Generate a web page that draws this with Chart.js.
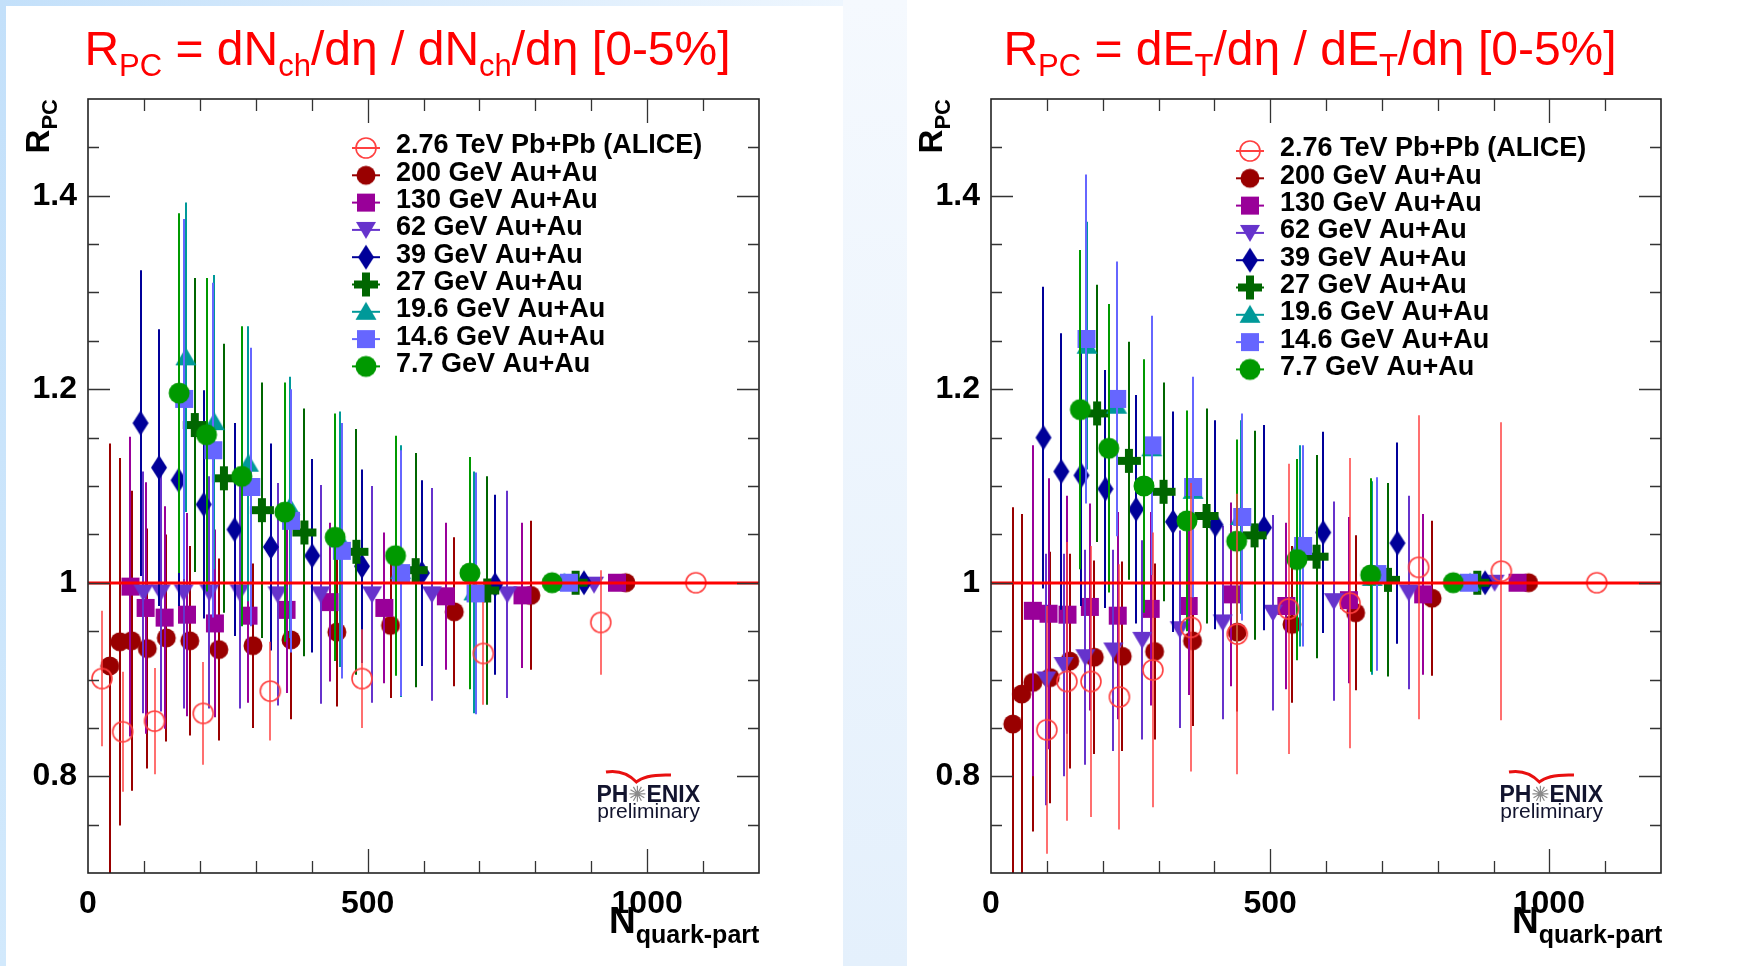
<!DOCTYPE html>
<html>
<head>
<meta charset="utf-8">
<script src="https://cdn.jsdelivr.net/npm/chart.js@4.4.1/dist/chart.umd.min.js"></script>
<style>
  body { margin: 0; width: 1746px; height: 966px; overflow: hidden; position: relative; background: #f2f8fe; }
  .strip { position: absolute; }
  canvas { position: absolute; top: 0; }
</style>
</head>
<body>
<div class="strip" style="left:0;top:0;width:6px;height:966px;background:linear-gradient(#c3e0fa,#d2e9fc)"></div>
<div class="strip" style="left:0;top:0;width:843px;height:6px;background:linear-gradient(to right,#c3e0fa,#eef6fe)"></div>
<div class="strip" style="left:6px;top:6px;width:837px;height:960px;background:#fff"></div>
<div class="strip" style="left:843px;top:0;width:64px;height:966px;background:linear-gradient(#f5f9fe,#e4f0fc)"></div>
<div class="strip" style="left:907px;top:0;width:839px;height:966px;background:#fff"></div>
<canvas id="nch" width="843" height="966" style="left:0"></canvas>
<canvas id="et" width="839" height="966" style="left:907px"></canvas>
<script>
// series, in legend order
const seriesLabels = ['2.76 TeV Pb+Pb (ALICE)', '200 GeV Au+Au', '130 GeV Au+Au', '62 GeV Au+Au', '39 GeV Au+Au',
                      '27 GeV Au+Au', '19.6 GeV Au+Au', '14.6 GeV Au+Au', '7.7 GeV Au+Au'];
const seriesColors = ['#ff4040', '#990000', '#990099', '#6633cc', '#000099', '#006600', '#009999', '#6666ff', '#009900'];
const seriesMarkers = ['openCircle', 'circle', 'square', 'triDown', 'diamond', 'cross', 'triUp', 'square', 'bigCircle'];

const xTickLabels = ['0', '500', '1000'];
const yTickLabels = ['0.8', '1', '1.2', '1.4'];
const refLine = 1;

// left panel: R_PC from dNch/deta (one row per series)
const nchX = [
  [25, 62, 119, 206, 326, 490, 707, 917, 1087],
  [39, 57, 78, 106, 140, 182, 234, 295, 363, 445, 541, 655, 792, 962],
  [76, 103, 137, 177, 227, 287, 355, 432, 530, 640, 777, 946],
  [99, 130, 171, 217, 271, 339, 416, 508, 615, 750, 905],
  [94, 127, 162, 207, 262, 327, 401, 490, 597, 728, 887],
  [191, 243, 311, 387, 480, 586, 714, 872],
  [175, 226, 287, 361, 450, 559, 690, 852],
  [172, 224, 292, 363, 454, 560, 693, 860],
  [163, 212, 275, 352, 442, 550, 683, 830]
];
const nchY = [
  [0.901, 0.846, 0.857, 0.865, 0.888, 0.901, 0.927, 0.959, 1.0],
  [0.914, 0.939, 0.940, 0.932, 0.943, 0.940, 0.931, 0.935, 0.941, 0.949, 0.956, 0.970, 0.987, 1.0],
  [0.996, 0.974, 0.964, 0.967, 0.958, 0.966, 0.972, 0.980, 0.974, 0.986, 0.987, 1.0],
  [0.990, 0.990, 0.990, 0.990, 0.990, 0.988, 0.988, 0.988, 0.988, 0.988, 0.998],
  [1.165, 1.119, 1.106, 1.081, 1.055, 1.037, 1.028, 1.017, 1.010, 0.998, 1.0],
  [1.163, 1.108, 1.075, 1.052, 1.032, 1.013, 0.992, 1.0],
  [1.233, 1.166, 1.123, 1.078, 1.045, 1.012, 0.990, 1.0],
  [1.190, 1.137, 1.099, 1.064, 1.033, 1.010, 0.989, 1.0],
  [1.196, 1.153, 1.110, 1.073, 1.047, 1.028, 1.010, 1.0]
];
const nchErr = [
  [0.070, 0.062, 0.055, 0.053, 0.051, 0.051, 0.053, 0.054, 0],
  [0.230, 0.190, 0.155, 0.124, 0.107, 0.098, 0.094, 0.085, 0.082, 0.077, 0.075, 0.077, 0.077, 0],
  [0.155, 0.130, 0.115, 0.105, 0.097, 0.090, 0.086, 0.082, 0.078, 0.076, 0.075, 0],
  [0.125, 0.123, 0.120, 0.120, 0.120, 0.115, 0.113, 0.112, 0.110, 0.107, 0],
  [0.158, 0.143, 0.130, 0.118, 0.110, 0.107, 0.100, 0.100, 0.096, 0.093, 0],
  [0.152, 0.139, 0.132, 0.128, 0.127, 0.121, 0.118, 0],
  [0.160, 0.152, 0.142, 0.135, 0.132, 0.130, 0.125, 0],
  [0.186, 0.173, 0.144, 0.136, 0.132, 0.127, 0.125, 0],
  [0.186, 0.162, 0.155, 0.134, 0.128, 0.124, 0.120, 0]
];

// right panel: R_PC from dET/deta
const etX = [
  [100, 136, 179, 230, 290, 358, 441, 533, 643, 766, 914, 1085],
  [39, 55, 75, 106, 141, 185, 235, 293, 361, 441, 539, 653, 790, 963],
  [75, 103, 137, 177, 227, 286, 354, 430, 529, 641, 774, 943],
  [99, 130, 169, 219, 271, 338, 415, 505, 614, 748, 902],
  [94, 126, 162, 205, 260, 326, 402, 489, 595, 728, 885],
  [190, 247, 309, 386, 472, 583, 711, 871],
  [172, 225, 288, 362, 447, 554, 683, 858],
  [171, 226, 289, 362, 450, 559, 692, 856],
  [160, 211, 274, 351, 440, 548, 680, 828]
];
const etY = [
  [0.848, 0.898, 0.898, 0.882, 0.910, 0.954, 0.947, 0.973, 0.979, 1.016, 1.012, 1.0],
  [0.854, 0.885, 0.897, 0.902, 0.919, 0.923, 0.924, 0.929, 0.940, 0.949, 0.957, 0.969, 0.984, 1.0],
  [0.971, 0.968, 0.967, 0.975, 0.966, 0.973, 0.976, 0.988, 0.976, 0.982, 0.988, 1.0],
  [0.900, 0.915, 0.923, 0.930, 0.941, 0.952, 0.959, 0.969, 0.981, 0.990, 1.0],
  [1.150, 1.115, 1.111, 1.097, 1.076, 1.063, 1.060, 1.057, 1.052, 1.041, 1.0],
  [1.175, 1.126, 1.094, 1.069, 1.049, 1.027, 1.003, 1.0],
  [1.245, 1.183, 1.139, 1.095, 1.068, 1.038, 1.005, 1.0],
  [1.252, 1.190, 1.142, 1.099, 1.068, 1.038, 1.009, 1.0],
  [1.179, 1.139, 1.100, 1.064, 1.043, 1.024, 1.008, 1.0]
];
const etErr = [
  [0.128, 0.144, 0.140, 0.137, 0.142, 0.149, 0.145, 0.150, 0.150, 0.157, 0.154, 0],
  [0.224, 0.186, 0.154, 0.130, 0.111, 0.100, 0.098, 0.091, 0.088, 0.082, 0.081, 0.080, 0.080, 0],
  [0.171, 0.140, 0.123, 0.107, 0.107, 0.100, 0.092, 0.095, 0.086, 0.086, 0.083, 0],
  [0.130, 0.115, 0.111, 0.104, 0.103, 0.102, 0.100, 0.101, 0.103, 0.100, 0],
  [0.156, 0.143, 0.135, 0.123, 0.118, 0.114, 0.108, 0.106, 0.104, 0.104, 0],
  [0.133, 0.123, 0.113, 0.111, 0.108, 0.105, 0.100, 0],
  [0.128, 0.130, 0.124, 0.110, 0.100, 0.104, 0.100, 0],
  [0.170, 0.142, 0.134, 0.114, 0.107, 0.104, 0.100, 0],
  [0.165, 0.149, 0.131, 0.114, 0.105, 0.104, 0.100, 0]
];

const FONT = '"Liberation Sans", Arial, sans-serif';
Chart.defaults.font.family = FONT;

// ROOT-like marker sprites, used as pointStyle
function makeMarker(kind, color) {
  const c = document.createElement('canvas');
  c.width = 28; c.height = 28;
  const g = c.getContext('2d'), m = 14;
  g.fillStyle = color; g.strokeStyle = color;
  g.beginPath();
  if (kind === 'openCircle') { g.lineWidth = 1.6; g.arc(m, m, 10, 0, 2 * Math.PI); g.stroke(); }
  else if (kind === 'circle') { g.arc(m, m, 9.5, 0, 2 * Math.PI); g.fill(); }
  else if (kind === 'bigCircle') { g.arc(m, m, 10.5, 0, 2 * Math.PI); g.fill(); }
  else if (kind === 'square') { g.fillRect(m - 9, m - 9, 18, 18); }
  else if (kind === 'triDown') { g.moveTo(m - 10, m - 8); g.lineTo(m + 10, m - 8); g.lineTo(m, m + 9); g.closePath(); g.fill(); }
  else if (kind === 'triUp') { g.moveTo(m - 10.5, m + 8); g.lineTo(m + 10.5, m + 8); g.lineTo(m, m - 10); g.closePath(); g.fill(); }
  else if (kind === 'diamond') { g.moveTo(m, m - 12.5); g.lineTo(m + 8, m); g.lineTo(m, m + 12.5); g.lineTo(m - 8, m); g.closePath(); g.fill(); }
  else if (kind === 'cross') { g.fillRect(m - 12, m - 4, 24, 8); g.fillRect(m - 4, m - 12, 8, 24); }
  return c;
}
const markerImgs = seriesMarkers.map((k, i) => makeMarker(k, seriesColors[i]));

function runsWidth(ctx, runs, big, small) {
  return runs.reduce((w, r) => { ctx.font = r[1] ? small : big; return w + ctx.measureText(r[0]).width; }, 0);
}
function drawRuns(ctx, runs, x, y, big, small, dy) {
  runs.forEach(r => {
    ctx.font = r[1] ? small : big;
    ctx.fillText(r[0], x, r[1] ? y + dy : y);
    x += ctx.measureText(r[0]).width;
  });
}

// vertical error bars, drawn just before each dataset's markers
const errorBars = {
  id: 'errorBars',
  beforeDatasetDraw(chart, args) {
    const ds = chart.data.datasets[args.index];
    const { ctx, chartArea: a, scales: { x, y } } = chart;
    ctx.save();
    ctx.beginPath(); ctx.rect(a.left, a.top, a.right - a.left, a.bottom - a.top); ctx.clip();
    ctx.strokeStyle = ds.borderColor;
    ctx.lineWidth = args.index === 0 ? 1.5 : 2;
    ds.data.forEach((p, j) => {
      const e = ds.errY[j];
      if (!e) return;
      const px = Math.round(x.getPixelForValue(p.x));
      ctx.beginPath();
      ctx.moveTo(px, y.getPixelForValue(p.y - e));
      ctx.lineTo(px, y.getPixelForValue(p.y + e));
      ctx.stroke();
    });
    ctx.restore();
  }
};

function makeDecor(cfg) {
  return {
    id: 'decor',
    afterDatasetsDraw(chart) {
      const { ctx, chartArea: a, scales: { y } } = chart;
      const py = Math.round(y.getPixelForValue(refLine));
      ctx.save();
      ctx.strokeStyle = '#ff0000'; ctx.lineWidth = 3;
      ctx.beginPath(); ctx.moveTo(a.left, py); ctx.lineTo(a.right, py); ctx.stroke();
      ctx.restore();
    },
    afterDraw(chart) {
      const { ctx, chartArea: a, scales: { x, y } } = chart;
      ctx.save();
      // frame + inward ticks on all sides
      ctx.strokeStyle = '#222'; ctx.lineWidth = 1.6;
      ctx.strokeRect(a.left, a.top, a.right - a.left, a.bottom - a.top);
      ctx.lineWidth = 1.3; ctx.strokeStyle = '#333';
      ctx.beginPath();
      x.ticks.forEach(t => {
        const px = Math.round(x.getPixelForValue(t.value)) + 0.5;
        if (px <= a.left + 2 || px >= a.right - 2) return;
        const len = xTickLabels.includes(String(t.value)) ? 24 : 12;
        ctx.moveTo(px, a.bottom); ctx.lineTo(px, a.bottom - len);
        ctx.moveTo(px, a.top); ctx.lineTo(px, a.top + len);
      });
      y.ticks.forEach(t => {
        const py = Math.round(y.getPixelForValue(t.value)) + 0.5;
        if (py <= a.top + 2 || py >= a.bottom - 2) return;
        const len = yTickLabels.includes(String(+t.value.toFixed(2))) ? 22 : 11;
        ctx.moveTo(a.left, py); ctx.lineTo(a.left + len, py);
        ctx.moveTo(a.right, py); ctx.lineTo(a.right - len, py);
      });
      ctx.stroke();

      // red title
      ctx.fillStyle = '#ff0000'; ctx.textAlign = 'left'; ctx.textBaseline = 'alphabetic';
      const big = '48px ' + FONT, small = '31px ' + FONT;
      const tw = runsWidth(ctx, cfg.title, big, small);
      drawRuns(ctx, cfg.title, (a.left + a.right) / 2 - 16 - tw / 2, a.top - 34, big, small, 11);

      // axis titles
      ctx.fillStyle = '#000';
      const rRuns = [['R', 0], ['PC', 1]];
      const rBig = 'bold 33px ' + FONT, rSmall = 'bold 22px ' + FONT;
      const rw = runsWidth(ctx, rRuns, rBig, rSmall);
      ctx.save();
      ctx.translate(a.left + cfg.yTitleDx, a.top + rw);
      ctx.rotate(-Math.PI / 2);
      drawRuns(ctx, rRuns, 0, 0, rBig, rSmall, 8);
      ctx.restore();
      drawRuns(ctx, [['N', 0], ['quark-part', 1]], a.left + 521, a.bottom + 60, 'bold 37px ' + FONT, 'bold 25px ' + FONT, 10);

      // legend
      ctx.font = 'bold 27px ' + FONT; ctx.textBaseline = 'middle';
      seriesLabels.forEach((lab, i) => {
        const ly = a.top + cfg.legendDy + i * 27.3, lx = a.left + cfg.legendDx;
        ctx.strokeStyle = seriesColors[i]; ctx.lineWidth = 2;
        ctx.beginPath(); ctx.moveTo(lx - 14, ly); ctx.lineTo(lx + 14, ly); ctx.stroke();
        ctx.drawImage(markerImgs[i], lx - 14, ly - 14);
        ctx.fillStyle = '#000';
        ctx.fillText(lab, lx + 30, ly - 2);
      });

      // PHENIX preliminary logo
      const sx = a.left + 549.4, by = a.bottom - 70.7;
      ctx.strokeStyle = '#e81010'; ctx.lineWidth = 3;
      ctx.beginPath();
      ctx.moveTo(a.left + 518, a.bottom - 101);
      ctx.quadraticCurveTo(a.left + 536, a.bottom - 104, sx - 1, a.bottom - 91);
      ctx.quadraticCurveTo(sx + 8, a.bottom - 99, a.left + 583, a.bottom - 98);
      ctx.stroke();
      ctx.strokeStyle = '#8a8a8a'; ctx.lineWidth = 1.2;
      ctx.beginPath();
      for (let k = 0; k < 12; k++) {
        const ang = k * Math.PI / 6;
        ctx.moveTo(sx, by - 8.5); ctx.lineTo(sx + 8 * Math.cos(ang), by - 8.5 + 8 * Math.sin(ang));
      }
      ctx.stroke();
      ctx.fillStyle = '#12142e'; ctx.textBaseline = 'alphabetic';
      ctx.font = 'bold 23px ' + FONT;
      ctx.textAlign = 'right'; ctx.fillText('PH', sx - 9, by);
      ctx.textAlign = 'left'; ctx.fillText('ENIX', sx + 9, by);
      ctx.font = '21px ' + FONT; ctx.textAlign = 'center';
      ctx.fillText('preliminary', a.left + 560.7, a.bottom - 54.7);
      ctx.restore();
    }
  };
}

function buildPanel(canvasId, xs, ys, errs, pad, cfg) {
  const datasets = seriesLabels.map((label, i) => ({
    label,
    data: xs[i].map((x, j) => ({ x, y: ys[i][j] })),
    errY: errs[i],
    pointStyle: markerImgs[i],
    pointRadius: 10,
    borderColor: seriesColors[i],
    backgroundColor: seriesColors[i],
    showLine: false,
    order: i === 0 ? 0 : 10 - i
  }));
  const tickFont = { size: 32, weight: 'bold', family: FONT };
  return new Chart(document.getElementById(canvasId), {
    type: 'scatter',
    data: { datasets },
    options: {
      responsive: false,
      animation: false,
      events: [],
      layout: { padding: pad },
      plugins: { legend: { display: false }, tooltip: { enabled: false } },
      scales: {
        x: {
          type: 'linear', min: 0, max: 1200,
          afterFit: s => { s.height = 60; },
          grid: { display: false }, border: { display: false },
          ticks: {
            stepSize: 100, autoSkip: false, maxRotation: 0, padding: 4, color: '#000', font: tickFont,
            callback: v => xTickLabels.includes(String(v)) ? String(v) : ''
          }
        },
        y: {
          type: 'linear', min: 0.7, max: 1.5,
          afterFit: s => { s.width = 80; },
          grid: { display: false }, border: { display: false },
          ticks: {
            stepSize: 0.05, autoSkip: false, padding: 3, color: '#000', font: tickFont,
            callback: v => { const t = String(+v.toFixed(2)); return yTickLabels.includes(t) ? t : ''; }
          }
        }
      }
    },
    plugins: [errorBars, makeDecor(cfg)]
  });
}

buildPanel('nch', nchX, nchY, nchErr, { left: 8, right: 84, top: 99, bottom: 33 }, {
  title: [['R', 0], ['PC', 1], [' = dN', 0], ['ch', 1], ['/dη / dN', 0], ['ch', 1], ['/dη [0-5%]', 0]],
  yTitleDx: -39, legendDx: 278, legendDy: 49
});
buildPanel('et', etX, etY, etErr, { left: 4, right: 85, top: 99, bottom: 33 }, {
  title: [['R', 0], ['PC', 1], [' = dE', 0], ['T', 1], ['/dη / dE', 0], ['T', 1], ['/dη [0-5%]', 0]],
  yTitleDx: -49, legendDx: 259, legendDy: 52
});
</script>
</body>
</html>
